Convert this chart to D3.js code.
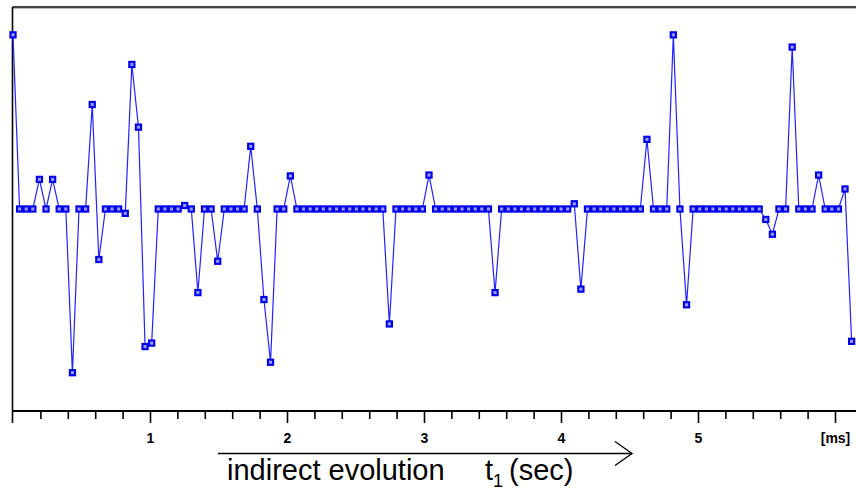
<!DOCTYPE html>
<html>
<head>
<meta charset="utf-8">
<script src="https://cdn.jsdelivr.net/npm/d3@7"></script>
<style>
  html, body { margin: 0; padding: 0; background: #fff; }
  svg { display: block; }
</style>
</head>
<body>
<svg id="chart" width="856" height="493"></svg>
<script>
// Sampled signal: 128 points, one every 0.0482 ms (arbitrary intensity units)
const sampleInterval = 0.0482;
const signal = [
  100, 0, 0, 0, 17, 0, 17, 0, 0, -94,
  0, 0, 60, -29, 0, 0, 0, -2.5, 83, 47,
  -79, -77, 0, 0, 0, 0, 2, 0, -48, 0,
  0, -30, 0, 0, 0, 0, 36, 0, -52, -88,
  0, 0, 19, 0, 0, 0, 0, 0, 0, 0,
  0, 0, 0, 0, 0, 0, 0, -66, 0, 0,
  0, 0, 0, 19.5, 0, 0, 0, 0, 0, 0,
  0, 0, 0, -48, 0, 0, 0, 0, 0, 0,
  0, 0, 0, 0, 0, 3, -46, 0, 0, 0,
  0, 0, 0, 0, 0, 0, 40, 0, 0, 0,
  100, 0, -55, 0, 0, 0, 0, 0, 0, 0,
  0, 0, 0, 0, -6, -14.5, 0, 0, 93, 0,
  0, 0, 19.5, 0, 0, 0, 11.5, -76
];
const minorTicks = d3.range(1, 31).map(k => k * 0.2).filter(v => Math.abs(v - Math.round(v)) > 1e-6);
const majorTicks = [1, 2, 3, 4, 5, 6];
const majorLabels = ["1", "2", "3", "4", "5", "[ms]"];

const svg = d3.select("#chart");
const plotLeft = 12.5, plotTop = 7, plotBottom = 411, plotRight = 856;

const x = d3.scaleLinear().domain([0, (plotRight - 13) / 137]).range([13, plotRight]);
const y = d3.scaleLinear().domain([-116, 116]).range([plotBottom, plotTop]);

const points = signal.map((v, i) => ({ t: i * sampleInterval, v }));

// frame: top rule and left edge
svg.append("line").attr("x1", plotLeft).attr("x2", plotRight).attr("y1", plotTop).attr("y2", plotTop)
  .attr("stroke", "#000").attr("stroke-width", 1.6);
svg.append("line").attr("x1", plotLeft).attr("x2", plotRight).attr("y1", plotTop + 1.4).attr("y2", plotTop + 1.4)
  .attr("stroke", "#999").attr("stroke-width", 0.8);
svg.append("line").attr("x1", plotLeft).attr("x2", plotLeft).attr("y1", plotTop).attr("y2", 423)
  .attr("stroke", "#000").attr("stroke-width", 1.6);

// time axis
const axisG = svg.append("g").attr("transform", `translate(0,${plotBottom})`);
axisG.call(d3.axisBottom(x).tickValues(minorTicks).tickSize(8).tickFormat(""))
  .call(g => g.select(".domain").attr("stroke-width", 2).attr("d", `M${plotLeft},0H${plotRight}`))
  .call(g => g.selectAll(".tick line").attr("stroke-width", 1.6));
const majorG = svg.append("g").attr("transform", `translate(0,${plotBottom})`);
majorG.call(d3.axisBottom(x).tickValues(majorTicks).tickSize(12)
    .tickFormat((d, i) => majorLabels[i]))
  .call(g => g.select(".domain").remove())
  .call(g => g.selectAll(".tick line").attr("stroke-width", 1.6))
  .call(g => g.selectAll(".tick text")
    .attr("y", 22).attr("dy", "0.71em")
    .attr("font-family", "'Liberation Sans', Arial, sans-serif")
    .attr("font-size", 14).attr("font-weight", "bold").attr("fill", "#000"));

// signal trace
svg.append("path").datum(points)
  .attr("fill", "none").attr("stroke", "#2222ff").attr("stroke-width", 1.2)
  .attr("d", d3.line().x(d => x(d.t)).y(d => y(d.v)));

svg.append("g").selectAll("rect").data(points).join("rect")
  .attr("x", d => x(d.t) - 2.6).attr("y", d => y(d.v) - 2.6)
  .attr("width", 5.2).attr("height", 5.2)
  .attr("fill", "#9a9aff").attr("stroke", "#0000e8").attr("stroke-width", 2.1);

// evolution arrow and caption
const ann = svg.append("g");
ann.append("line").attr("x1", 218).attr("x2", 632).attr("y1", 453.5).attr("y2", 453.5)
  .attr("stroke", "#000").attr("stroke-width", 1.3);
ann.append("path").attr("d", "M615,441.5L632,453.5L615,465.5")
  .attr("fill", "none").attr("stroke", "#000").attr("stroke-width", 1.3);
const cap = ann.append("text").attr("y", 480)
  .attr("font-family", "'Liberation Sans', Arial, sans-serif").attr("font-size", 29).attr("fill", "#000");
cap.append("tspan").attr("x", 227).text("indirect evolution");
cap.append("tspan").attr("x", 485).text("t");
cap.append("tspan").attr("font-size", 18).attr("dy", 7).text("1");
cap.append("tspan").attr("font-size", 29).attr("dy", -7).attr("dx", 6).text("(sec)");
</script>
</body>
</html>
